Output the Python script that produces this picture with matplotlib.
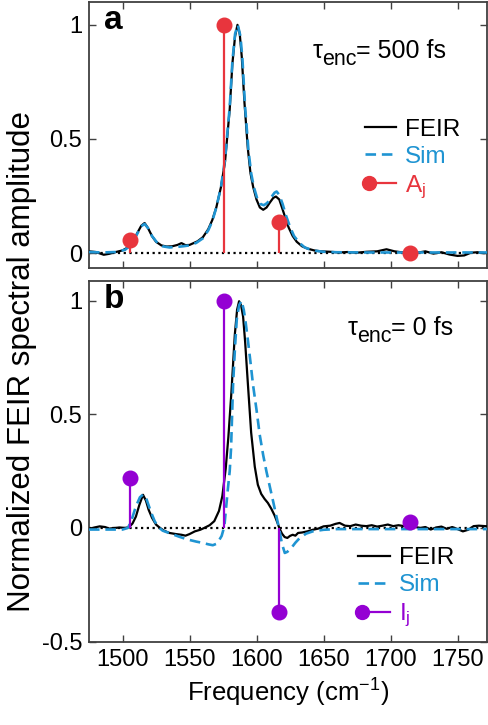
import matplotlib
matplotlib.use("Agg")
import matplotlib.pyplot as plt
from matplotlib.lines import Line2D
from matplotlib.legend_handler import HandlerBase
import matplotlib.transforms as mtransforms

plt.rcParams['font.family'] = ['Liberation Sans', 'DejaVu Sans']
plt.rcParams['mathtext.fontset'] = 'custom'
plt.rcParams['mathtext.rm'] = 'Liberation Sans'
plt.rcParams['mathtext.default'] = 'regular'
plt.rcParams['axes.unicode_minus'] = False

# ---------------- data ----------------
a_feir_f = [1475, 1480, 1486, 1490, 1495, 1500, 1504, 1507, 1511, 1514, 1516.5, 1519, 1522, 1525,
            1529, 1533, 1537, 1541, 1544, 1547, 1550, 1553, 1556, 1560, 1564, 1567, 1570, 1573.5,
            1576.5, 1580, 1582, 1584, 1585.8, 1587.5, 1589, 1591, 1593.5, 1595.5, 1597.5, 1600,
            1602.5, 1605, 1607.5, 1610, 1612.5, 1614.5, 1617, 1619, 1621.5, 1624, 1627, 1630, 1634,
            1638, 1643, 1648, 1655, 1662, 1668, 1675, 1682, 1690, 1697, 1703, 1708, 1714, 1720,
            1726, 1732, 1738, 1744, 1750, 1755, 1760, 1765, 1770, 1773]
a_feir_v = [0.008, 0.005, -0.007, -0.003, 0.005, 0.012, 0.025, 0.04, 0.088, 0.12, 0.132, 0.11, 0.075, 0.05,
            0.034, 0.029, 0.03, 0.036, 0.044, 0.035, 0.036, 0.044, 0.052, 0.07, 0.105, 0.145, 0.2, 0.29,
            0.4, 0.63, 0.83, 0.95, 1.0, 0.96, 0.86, 0.66, 0.46, 0.35, 0.29, 0.235,
            0.2, 0.19, 0.2, 0.222, 0.242, 0.248, 0.235, 0.2, 0.155, 0.112, 0.075, 0.05, 0.03,
            0.02, 0.012, 0.008, 0.006, 0.003, 0.005, 0.002, 0.006, 0.008, 0.017, 0.008, 0.004, 0.006, 0.002,
            0.008, -0.002, 0.004, -0.006, -0.012, -0.01, 0.002, 0.004, 0.0, 0.002]

a_sim_f = [1475, 1485, 1495, 1502, 1507, 1511, 1514, 1516.5, 1519, 1522, 1526, 1530, 1535, 1540, 1545,
           1550, 1555, 1560, 1564, 1567, 1570, 1573.5, 1576.5, 1580, 1582, 1584, 1586, 1588, 1589.5,
           1591.5, 1594, 1596, 1598, 1600.5, 1603, 1605.5, 1608, 1611, 1613.5, 1615, 1617, 1619.5,
           1622, 1625, 1628, 1632, 1636, 1642, 1650, 1660, 1680, 1700, 1730, 1773]
a_sim_v = [0.005, 0.003, 0.005, 0.015, 0.04, 0.085, 0.118, 0.128, 0.11, 0.075, 0.045, 0.03, 0.025, 0.027, 0.03,
           0.034, 0.045, 0.065, 0.1, 0.14, 0.2, 0.29, 0.41, 0.64, 0.84, 0.96, 1.0, 0.95, 0.85,
           0.64, 0.45, 0.35, 0.29, 0.24, 0.215, 0.21, 0.22, 0.245, 0.265, 0.27, 0.255, 0.215,
           0.165, 0.115, 0.075, 0.045, 0.025, 0.012, 0.006, 0.004, 0.003, 0.003, 0.003, 0.003]

b_feir_f = [1475, 1479, 1483, 1487, 1490, 1494, 1498, 1502, 1505, 1507.5, 1510, 1512.5, 1515.3, 1517.5,
            1519.5, 1522, 1525, 1528, 1531, 1535, 1540, 1544, 1547, 1550, 1554, 1558, 1561, 1565,
            1568.5, 1572, 1574.5, 1577, 1579, 1581.3, 1583.8, 1585.5, 1587, 1588.5, 1590, 1591.5,
            1593.5, 1596, 1598.7, 1601, 1603.5, 1606, 1608.5, 1611, 1613.5, 1615.5, 1617, 1619,
            1621, 1623, 1625, 1627, 1629, 1631, 1634, 1638, 1642, 1646, 1650, 1655, 1659, 1662,
            1666, 1670, 1674, 1678, 1682, 1686, 1690, 1694, 1698, 1702, 1706, 1710, 1714, 1718,
            1722, 1726, 1730, 1734, 1738, 1742, 1746, 1750, 1754, 1758, 1762, 1766, 1773]
b_feir_v = [-0.004, 0.002, 0.007, 0.004, -0.003, 0.0, 0.002, 0.0, 0.004, 0.02, 0.05, 0.1, 0.146, 0.12,
            0.08, 0.045, 0.015, 0.0, -0.012, -0.022, -0.027, -0.03, -0.034, -0.027, -0.015, -0.008, 0.0, 0.012,
            0.03, 0.075, 0.14, 0.26, 0.4, 0.6, 0.85, 0.96, 0.998, 0.98, 0.93, 0.82,
            0.64, 0.42, 0.27, 0.19, 0.15, 0.128, 0.11, 0.085, 0.055, 0.025, 0.0, -0.025,
            -0.04, -0.044, -0.035, -0.03, -0.034, -0.022, -0.02, -0.015, -0.008, -0.003, 0.007, 0.01, 0.018, 0.022,
            0.01, 0.008, 0.015, 0.01, 0.008, 0.012, 0.006, 0.01, 0.015, 0.008, 0.012, 0.008, 0.015, 0.005,
            0.0, 0.004, -0.007, 0.002, 0.006, -0.004, 0.004, -0.005, -0.015, -0.008, 0.008, 0.01, 0.007]

b_sim_f = [1475, 1490, 1500, 1504, 1506.5, 1510, 1513, 1515.5, 1518, 1521.5, 1524, 1526.5, 1530, 1536,
           1542, 1548.7, 1555, 1560, 1564, 1567.4, 1570, 1572, 1574, 1576, 1578.6, 1580, 1581, 1582.5,
           1584, 1585.3, 1587, 1588.8, 1590.5, 1592, 1593.7, 1595.5, 1597.4, 1600, 1602.4, 1605,
           1607.4, 1610, 1612.4, 1614.5, 1616.8, 1619, 1621.1, 1623, 1626, 1629, 1632.3, 1637,
           1642, 1650, 1660, 1773]
b_sim_v = [-0.007, -0.007, -0.007, 0.0, 0.03, 0.095, 0.135, 0.148, 0.125, 0.066, 0.03, 0.005, -0.012, -0.025,
           -0.038, -0.051, -0.06, -0.066, -0.072, -0.076, -0.07, -0.055, -0.035, 0.007, 0.17, 0.25, 0.35, 0.63,
           0.8, 0.92, 0.98, 1.0, 0.96, 0.9, 0.82, 0.73, 0.63, 0.52, 0.41, 0.32,
           0.249, 0.18, 0.117, 0.06, 0.0, -0.07, -0.11, -0.105, -0.088, -0.065, -0.044, -0.025,
           -0.015, -0.008, -0.005, -0.005]

stem_f = [1505.4, 1575.6, 1616.8, 1714.3]
A_vals = [0.056, 1.0, 0.135, 0.0]
I_vals = [0.221, 1.0, -0.37, 0.026]

xticks = [1500, 1550, 1600, 1650, 1700, 1750]
a_yticks = [0, 0.5, 1]
a_yticklabels = ['0', '0.5', '1']
b_yticks = [-0.5, 0, 0.5, 1]
b_yticklabels = ['-0.5', '0', '0.5', '1']

BLUE = '#1f94d2'
RED = '#e8353d'
PURPLE = '#9400d3'
SPINE = '#404040'


class HandlerDotLine(HandlerBase):
    def create_artists(self, legend, orig_handle, xdescent, ydescent, width, height, fontsize, trans):
        y = height / 2 - ydescent
        c = orig_handle.get_color()
        line = Line2D([-xdescent, -xdescent + width], [y, y], color=c, lw=orig_handle.get_linewidth())
        dot = Line2D([-xdescent + 3], [y], marker='o', ms=orig_handle.get_markersize(), color=c, ls='none')
        line.set_transform(trans)
        dot.set_transform(trans)
        return [line, dot]


fig = plt.figure(figsize=(4.88, 7.25), dpi=100)
W, H = 488.0, 725.0
ax1 = fig.add_axes([89 / W, 1 - 268 / H, (487 - 89) / W, (268 - 2) / H])
ax2 = fig.add_axes([89 / W, 1 - 642 / H, (487 - 89) / W, (642 - 281) / H])


def style(ax):
    ax.set_xlim(1475, 1772)
    ax.set_xticks(xticks)
    ax.tick_params(direction='in', top=True, right=True, length=5, width=1.0,
                   color=SPINE, labelsize=17, pad=5)
    for s in ax.spines.values():
        s.set_color(SPINE)
        s.set_linewidth(1.3)
    ax.axhline(0, color='black', ls=(0, (1, 1.6)), lw=1.6, zorder=1)


def tau_label(ax, x, y, rest):
    renderer = fig.canvas.get_renderer()
    t1 = ax.text(x, y, 'τ', transform=ax.transAxes, fontsize=18, va='baseline', ha='left')
    bb = t1.get_window_extent(renderer)
    tr2 = mtransforms.offset_copy(ax.transAxes, fig=fig, x=(bb.width - 1.0) * 72 / fig.dpi,
                                  y=-4.8, units='points')
    t2 = ax.text(x, y, 'enc', transform=tr2, fontsize=15.5, va='baseline', ha='left')
    bb2 = t2.get_window_extent(renderer)
    tr3 = mtransforms.offset_copy(ax.transAxes, fig=fig,
                                  x=(bb.width - 1.0 + bb2.width) * 72 / fig.dpi, y=0, units='points')
    ax.text(x, y, rest, transform=tr3, fontsize=18, va='baseline', ha='left')


def draw(ax, ff, fv, sf, sv, vals, col, lab, ylim, yt, ytl, rest, taupos, legpos, letter):
    style(ax)
    l1, = ax.plot(ff, fv, color='black', lw=1.6, zorder=3)
    l2, = ax.plot(sf, sv, color=BLUE, lw=1.9, ls=(0, (4, 2.2)), zorder=4)
    ml, sl, bl = ax.stem(stem_f, vals, linefmt='-', markerfmt='o', basefmt=' ')
    plt.setp(sl, color=col, lw=1.6, zorder=5)
    plt.setp(ml, color=col, ms=10.5, zorder=6)
    ax.set_ylim(*ylim)
    ax.set_yticks(yt)
    ax.set_yticklabels(ytl)
    ax.text(0.038, 0.988 if letter == 'a' else 0.992, letter, transform=ax.transAxes,
            fontsize=24, fontweight='bold', va='top', ha='left')
    tau_label(ax, taupos[0], taupos[1], rest)
    hdot = Line2D([], [], color=col, lw=1.6, marker='o', ms=10)
    leg = ax.legend([l1, l2, hdot], ['FEIR', 'Sim', lab], loc='upper left',
                    bbox_to_anchor=legpos, frameon=False, fontsize=17.5, handlelength=1.3,
                    handletextpad=0.37, labelspacing=0.22, borderaxespad=0, borderpad=0,
                    labelcolor=['black', BLUE, col],
                    handler_map={hdot: HandlerDotLine()})
    leg.set_zorder(10)


draw(ax1, a_feir_f, a_feir_v, a_sim_f, a_sim_v, A_vals, RED, 'A$_{j}$',
     (-0.065, 1.10), a_yticks, a_yticklabels, '= 500 fs', (0.563, 0.788),
     (0.693, 0.562), 'a')
ax1.set_xticklabels([])
draw(ax2, b_feir_f, b_feir_v, b_sim_f, b_sim_v, I_vals, PURPLE, 'I$_{j}$',
     (-0.502, 1.087), b_yticks, b_yticklabels, '= 0 fs', (0.651, 0.850),
     (0.676, 0.263), 'b')
ax2.set_xlabel('Frequency (cm$^{\\mathregular{-1}}$)', fontsize=18.5, labelpad=4)
fig.text(22 / W, 1 - 362 / H, 'Normalized FEIR spectral amplitude', rotation=90,
         fontsize=22.5, ha='center', va='center')

fig.savefig('out.png', dpi=100)
